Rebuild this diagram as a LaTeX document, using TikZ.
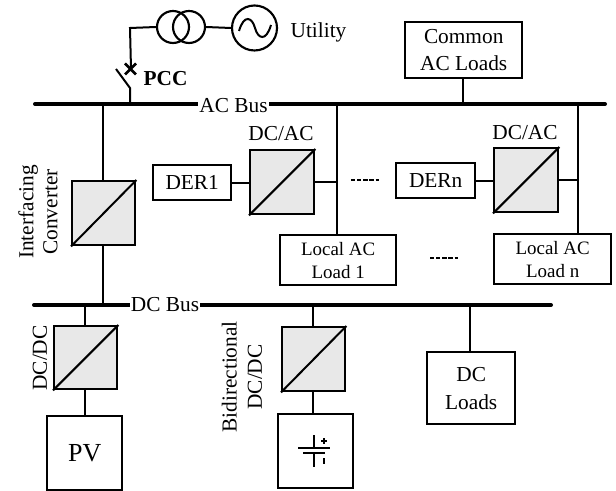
\documentclass[tikz,border=0pt]{standalone}
\usepackage{fontspec}
\setmainfont{Liberation Serif}
\newcommand{\fpx}[1]{\fontsize{#1}{#1}\selectfont}
\tikzset{
  box/.style={draw,line width=1.8pt,fill=white,inner sep=0pt,anchor=north west,align=center},
  conv/.style={draw,line width=1.8pt,fill=black!9,inner sep=0pt,anchor=north west},
  wire/.style={line width=1.5pt},
  busline/.style={line width=3pt,line cap=round},
  lbl/.style={inner sep=0pt,align=center,font=\fpx{16pt}}
}
\newcommand{\mkconv}[5]{\node[conv,minimum width=#4*0.75pt,minimum height=#5*0.75pt] (#1) at (#2,#3) {};
  \draw[wire] (#1.south west) -- (#1.north east);}
\begin{document}
\begin{tikzpicture}[x=0.75pt,y=-0.75pt]
\useasboundingbox (0,0) rectangle (616,491);
% buses
\coordinate (acl) at (35,104); \coordinate (acr) at (605,104);
\coordinate (dcl) at (34,305); \coordinate (dcr) at (551,305);
\draw[busline] (acl) -- (acr);
\draw[busline] (dcl) -- (dcr);
% junctions
\coordinate (jpcc) at (130,104); \coordinate (jif) at (102.5,104); \coordinate (jif2) at (102.5,305);
\coordinate (j1) at (337,104); \coordinate (jn) at (578,104); \coordinate (jc) at (463,104);
\coordinate (jpv) at (85,305); \coordinate (jbat) at (313,305); \coordinate (jdcl) at (470,305);
% converters
\mkconv{cif}{71}{180}{63}{64}
\mkconv{c1}{249}{149}{64}{64}
\mkconv{cn}{493}{147}{64}{64}
\mkconv{cpv}{53}{325}{63}{63}
\mkconv{cbat}{281}{326}{63}{64}
% boxes
\node[box,minimum width=78*0.75pt,minimum height=35*0.75pt,font=\fpx{16pt}] (der1) at (152,164) {DER1};
\node[box,minimum width=79*0.75pt,minimum height=35*0.75pt,font=\fpx{16pt}] (dern) at (395,162) {DERn};
\node[box,minimum width=116*0.75pt,minimum height=50*0.75pt,font=\fpx{14.2pt}] (l1) at (279,234) {Local AC\\[3pt]Load 1};
\node[box,minimum width=117*0.75pt,minimum height=50*0.75pt,font=\fpx{14.2pt}] (ln) at (493,233) {Local AC\\[3pt]Load n};
\node[box,minimum width=117*0.75pt,minimum height=56*0.75pt,font=\fpx{16pt}] (com) at (404,21) {Common\\[4pt]AC Loads};
\node[box,minimum width=75*0.75pt,minimum height=74*0.75pt,font=\fpx{19.5pt}] (pv) at (46,415) {PV};
\node[box,minimum width=75*0.75pt,minimum height=74*0.75pt] (bat) at (277,413) {};
\node[box,minimum width=88*0.75pt,minimum height=72*0.75pt,font=\fpx{16pt}] (dcload) at (426,351) {DC\\[5pt]Loads};
% vertical wires
\draw[wire] (jif) -- (cif.north -| jif);
\draw[wire] (cif.south -| jif) -- (jif2);
\draw[wire] (j1) -- (l1.north -| j1);
\draw[wire] (jn) -- (ln.north -| jn);
\draw[wire] (com.south -| jc) -- (jc);
\draw[wire] (jpv) -- (cpv.north -| jpv);
\draw[wire] (cpv.south -| pv.north) -- (pv.north);
\draw[wire] (jbat) -- (cbat.north -| jbat);
\draw[wire] (cbat.south -| jbat) -- (bat.north -| jbat);
\draw[wire] (jdcl) -- (dcload.north -| jdcl);
% horizontal wires
\draw[wire] (der1.east) -- (c1.west |- der1.east);
\draw[wire] (c1.east) -- (c1.east -| j1);
\draw[wire] (dern.east) -- (cn.west |- dern.east);
\draw[wire] (cn.east) -- (cn.east -| jn);
% dots
\coordinate (d1a) at (351,180); \coordinate (d1b) at (379,180);
\coordinate (d2a) at (430,258); \coordinate (d2b) at (458,258);
\draw[line width=1.4pt,dash pattern=on 3.2pt off 1.4pt] (d1a) -- (d1b);
\draw[line width=1.4pt,dash pattern=on 3.2pt off 1.4pt] (d2a) -- (d2b);
% utility chain
\coordinate (sw0) at (130,88); \coordinate (sw1) at (116,69); \coordinate (x) at (131,69);
\coordinate (corner) at (130,28);
\node[draw,circle,line width=1.6pt,minimum size=32*0.75pt,inner sep=0pt] (t1) at (173,27) {};
\node[draw,circle,line width=1.6pt,minimum size=32*0.75pt,inner sep=0pt] (t2) at (189,27) {};
\node[draw,circle,line width=1.6pt,minimum size=45*0.75pt,inner sep=0pt] (src) at (254.5,28) {};
\draw[wire] (jpcc) -- (sw0) -- (sw1);
\draw[wire] (x) -- (corner) -- (t1.west);
\draw[wire] (t2.east) -- (src.west);
\draw[line width=1.9pt] (125,63.5) -- (136,74.5) (125,74.5) -- (136,63.5);
\draw[line width=1.5pt] (239,31) .. controls (244,14) and (252,17) .. (255,28) .. controls (258,39) and (266,42) .. (271,25);
% battery
\coordinate (bt) at (314,435); \coordinate (bb) at (314,467);
\draw[line width=1pt] (bt) -- (314,448) (314,453) -- (bb);
\draw[line width=1pt] (298,448) -- (330,448);
\draw[line width=2.2pt] (303,453) -- (325,453);
\draw[line width=.8pt] (321,441) -- (327,441) (324,438) -- (324,444);
\draw[line width=.8pt] (324,458) -- (324,464);
% labels
\node[lbl,fill=white,inner ysep=1pt,inner xsep=1pt] (acbus) at (233.5,106) {AC Bus};
\node[lbl,fill=white,inner ysep=1pt,inner xsep=1pt] (dcbus) at (165,305) {DC Bus};
\node[lbl] (util) at (318.5,32) {Utility};
\node[lbl,font=\bfseries\fpx{16pt}] (pcc) at (165.5,79) {PCC};
\node[lbl] (dcac1) at (281,134) {DC/AC};
\node[lbl] (dcacn) at (525,133) {DC/AC};
\node[lbl,rotate=90] (iflbl) at (38,212) {Interfacing\\[2pt]Converter};
\node[lbl,rotate=90] (dcdc1) at (40,358) {DC/DC};
\node[lbl,rotate=90] (bidir) at (242,377) {Bidirectional\\[3pt]DC/DC};
\end{tikzpicture}
\end{document}
